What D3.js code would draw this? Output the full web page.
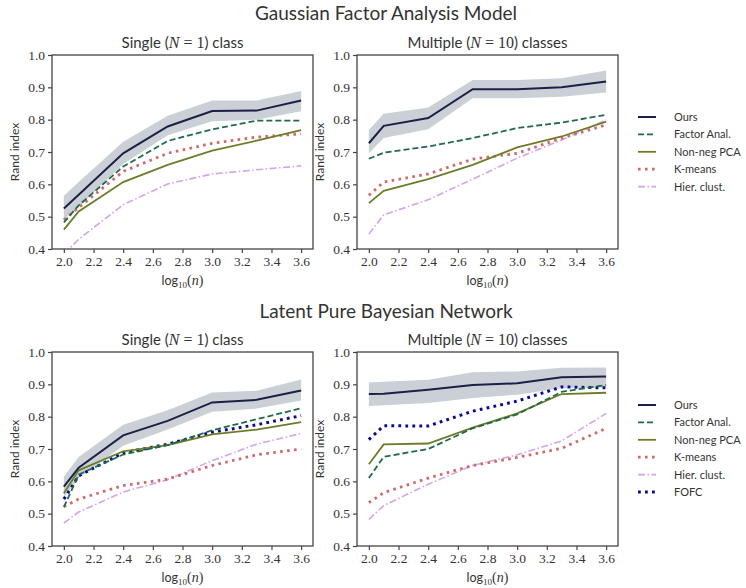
<!DOCTYPE html>
<html>
<head>
<meta charset="utf-8">
<script src="https://cdn.jsdelivr.net/npm/d3@7"></script>
<style>
  body { margin: 0; background: #fff; }
  text { fill: #333; }
</style>
</head>
<body>
<svg width="746" height="588"></svg>
<script>
// log10(n) sample sizes
var xVals = [2.0, 2.1, 2.4, 2.7, 3.0, 3.3, 3.6]
var xTicks = [2.0, 2.2, 2.4, 2.6, 2.8, 3.0, 3.2, 3.4, 3.6]
var yTicks = [0.4, 0.5, 0.6, 0.7, 0.8, 0.9, 1.0]

// Gaussian factor analysis, single class
var gfaSingleOurs   = [0.525, 0.568, 0.696, 0.779, 0.827, 0.828, 0.859]
var gfaSingleOursLo = [0.490, 0.530, 0.663, 0.752, 0.795, 0.800, 0.826]
var gfaSingleOursHi = [0.565, 0.607, 0.732, 0.812, 0.859, 0.859, 0.889]
var gfaSingleFactor = [0.482, 0.535, 0.655, 0.734, 0.770, 0.797, 0.797]
var gfaSingleNnpca  = [0.460, 0.516, 0.607, 0.660, 0.704, 0.735, 0.768]
var gfaSingleKmeans = [0.490, 0.528, 0.640, 0.696, 0.727, 0.746, 0.756]
var gfaSingleHier   = [0.385, 0.430, 0.537, 0.601, 0.632, 0.645, 0.657]

// Gaussian factor analysis, 10 classes
var gfaMultiOurs   = [0.727, 0.781, 0.805, 0.894, 0.894, 0.900, 0.918]
var gfaMultiOursLo = [0.696, 0.743, 0.770, 0.866, 0.866, 0.871, 0.884]
var gfaMultiOursHi = [0.768, 0.818, 0.838, 0.923, 0.923, 0.928, 0.952]
var gfaMultiFactor = [0.679, 0.698, 0.717, 0.743, 0.774, 0.791, 0.815]
var gfaMultiNnpca  = [0.542, 0.580, 0.616, 0.660, 0.714, 0.748, 0.794]
var gfaMultiKmeans = [0.566, 0.607, 0.632, 0.678, 0.696, 0.743, 0.784]
var gfaMultiHier   = [0.446, 0.506, 0.552, 0.616, 0.681, 0.737, 0.799]

// latent pure bayesian network, single class
var lpbnSingleOurs   = [0.584, 0.642, 0.742, 0.787, 0.844, 0.852, 0.881]
var lpbnSingleOursLo = [0.550, 0.610, 0.710, 0.760, 0.815, 0.825, 0.850]
var lpbnSingleOursHi = [0.615, 0.675, 0.775, 0.820, 0.875, 0.880, 0.915]
var lpbnSingleFactor = [0.520, 0.621, 0.683, 0.712, 0.758, 0.792, 0.826]
var lpbnSingleNnpca  = [0.563, 0.634, 0.693, 0.712, 0.745, 0.760, 0.783]
var lpbnSingleKmeans = [0.522, 0.545, 0.587, 0.607, 0.649, 0.682, 0.700]
var lpbnSingleHier   = [0.471, 0.505, 0.567, 0.605, 0.664, 0.715, 0.748]
var lpbnSingleFofc   = [0.545, 0.617, 0.688, 0.715, 0.752, 0.775, 0.803]

// latent pure bayesian network, 10 classes
var lpbnMultiOurs   = [0.870, 0.871, 0.883, 0.898, 0.903, 0.922, 0.924]
var lpbnMultiOursLo = [0.833, 0.835, 0.842, 0.858, 0.868, 0.889, 0.890]
var lpbnMultiOursHi = [0.906, 0.908, 0.914, 0.937, 0.940, 0.951, 0.952]
var lpbnMultiFactor = [0.610, 0.676, 0.700, 0.764, 0.807, 0.877, 0.898]
var lpbnMultiNnpca  = [0.653, 0.714, 0.717, 0.766, 0.810, 0.870, 0.874]
var lpbnMultiKmeans = [0.534, 0.565, 0.610, 0.649, 0.674, 0.702, 0.764]
var lpbnMultiHier   = [0.482, 0.525, 0.591, 0.649, 0.682, 0.725, 0.810]
var lpbnMultiFofc   = [0.729, 0.772, 0.771, 0.817, 0.848, 0.892, 0.889]

var methods = ['Ours', 'Factor Anal.', 'Non-neg PCA', 'K-means', 'Hier. clust.', 'FOFC']

var styles = {
  'Ours':         { color: '#1b2045', width: 2,   dash: null },
  'Factor Anal.': { color: '#1f6a48', width: 1.8, dash: '6,3' },
  'Non-neg PCA':  { color: '#6e7c28', width: 1.8, dash: null },
  'K-means':      { color: '#cd6b6b', width: 2.8, dash: '2.6,4.4' },
  'Hier. clust.': { color: '#d6a2e8', width: 1.6, dash: '7,2.5,1.5,2.5' },
  'FOFC':         { color: '#0a0a96', width: 3,   dash: '2.8,4.2' }
}

var svg = d3.select('svg')
var pw = 261, ph = 194
var sans = 'Lato, sans-serif'
var serif = '"Liberation Serif", serif'

var x = d3.scaleLinear().domain([1.92, 3.68]).range([0, pw])
var y = d3.scaleLinear().domain([0.4, 1.0]).range([ph, 0])

function styleAxis(a) {
  a.select('.domain').remove()
  a.selectAll('.tick line').attr('stroke', '#444').attr('stroke-width', 1.2)
  a.selectAll('.tick text').attr('fill', '#555')
      .style('font-family', serif).style('font-size', '13.5px')
}

var clipN = 0
function panel(left, top, title, nText, word, series, band) {
  var g = svg.append('g').attr('transform', 'translate(' + left + ',' + top + ')')
  var id = 'clip' + (clipN++)
  g.append('clipPath').attr('id', id).append('rect').attr('width', pw).attr('height', ph)
  var plot = g.append('g').attr('clip-path', 'url(#' + id + ')')

  var area = d3.area()
      .x(function(d, i) { return x(xVals[i]) })
      .y0(function(d, i) { return y(band[0][i]) })
      .y1(function(d, i) { return y(band[1][i]) })
  plot.append('path').attr('d', area(xVals))
      .attr('fill', '#c4cbd2').attr('opacity', 0.9)

  var line = d3.line()
      .x(function(d, i) { return x(xVals[i]) })
      .y(function(d) { return y(d) })

  // draw back-to-front so "Ours" ends on top
  series.slice().reverse().forEach(function(s) {
    var st = styles[s.name]
    plot.append('path').attr('d', line(s.values))
        .attr('fill', 'none')
        .attr('stroke', st.color)
        .attr('stroke-width', st.width)
        .attr('stroke-dasharray', st.dash)
  })

  g.append('g').attr('transform', 'translate(0,' + ph + ')')
      .call(d3.axisBottom(x).tickValues(xTicks).tickFormat(d3.format('.1f')).tickSize(4).tickSizeOuter(0).tickPadding(3))
      .call(styleAxis)
  g.append('g')
      .call(d3.axisLeft(y).tickValues(yTicks).tickFormat(d3.format('.1f')).tickSize(4).tickSizeOuter(0).tickPadding(3))
      .call(styleAxis)

  g.append('rect').attr('width', pw).attr('height', ph)
      .attr('fill', 'none').attr('stroke', '#444').attr('stroke-width', 1.3)

  var t = g.append('text').attr('x', pw / 2).attr('y', -7)
      .attr('text-anchor', 'middle').style('font-family', sans).style('font-size', '15px')
  t.append('tspan').text(title + ' (')
  t.append('tspan').style('font-family', serif).style('font-style', 'italic').style('font-size', '16px').text('N')
  t.append('tspan').style('font-family', serif).style('font-size', '16px').text(' = ' + nText)
  t.append('tspan').text(') ' + word)

  g.append('text').attr('transform', 'translate(-33,' + ph / 2 + ') rotate(-90)')
      .attr('text-anchor', 'middle').style('font-family', sans).style('font-size', '12px')
      .text('Rand index')

  var xl = g.append('text').attr('x', pw / 2).attr('y', ph + 36)
      .attr('text-anchor', 'middle').style('font-family', sans).style('font-size', '12.5px')
  xl.append('tspan').text('log')
  xl.append('tspan').attr('dy', 3).style('font-family', serif).style('font-size', '9px').text('10')
  xl.append('tspan').attr('dy', -3).style('font-family', serif).style('font-size', '14px').text('(')
  xl.append('tspan').style('font-family', serif).style('font-style', 'italic').style('font-size', '14px').text('n')
  xl.append('tspan').style('font-family', serif).style('font-size', '14px').text(')')
}

function legend(left, top, names) {
  var g = svg.append('g').attr('transform', 'translate(' + left + ',' + top + ')')
  names.forEach(function(name, i) {
    var st = styles[name]
    var row = g.append('g').attr('transform', 'translate(0,' + (i * 17.4) + ')')
    row.append('line').attr('x1', 0).attr('x2', 18)
        .attr('stroke', st.color).attr('stroke-width', st.width)
        .attr('stroke-dasharray', st.dash)
    row.append('text').attr('x', 36).attr('y', 4)
        .style('font-family', sans).style('font-size', '11px').text(name)
  })
}

function mk(names, arrays) {
  return names.map(function(n, i) { return { name: n, values: arrays[i] } })
}

svg.append('text').attr('x', 386).attr('y', 20).attr('text-anchor', 'middle')
    .style('font-family', sans).style('font-size', '19px').text('Gaussian Factor Analysis Model')
svg.append('text').attr('x', 386).attr('y', 318).attr('text-anchor', 'middle')
    .style('font-family', sans).style('font-size', '19px').text('Latent Pure Bayesian Network')

panel(52, 55, 'Single', '1', 'class',
  mk(methods.slice(0, 5), [gfaSingleOurs, gfaSingleFactor, gfaSingleNnpca, gfaSingleKmeans, gfaSingleHier]),
  [gfaSingleOursLo, gfaSingleOursHi])
panel(357, 55, 'Multiple', '10', 'classes',
  mk(methods.slice(0, 5), [gfaMultiOurs, gfaMultiFactor, gfaMultiNnpca, gfaMultiKmeans, gfaMultiHier]),
  [gfaMultiOursLo, gfaMultiOursHi])
panel(52, 352, 'Single', '1', 'class',
  mk(methods, [lpbnSingleOurs, lpbnSingleFactor, lpbnSingleNnpca, lpbnSingleKmeans, lpbnSingleHier, lpbnSingleFofc]),
  [lpbnSingleOursLo, lpbnSingleOursHi])
panel(357, 352, 'Multiple', '10', 'classes',
  mk(methods, [lpbnMultiOurs, lpbnMultiFactor, lpbnMultiNnpca, lpbnMultiKmeans, lpbnMultiHier, lpbnMultiFofc]),
  [lpbnMultiOursLo, lpbnMultiOursHi])

legend(638, 117, methods.slice(0, 5))
legend(638, 405, methods)
</script>
</body>
</html>
